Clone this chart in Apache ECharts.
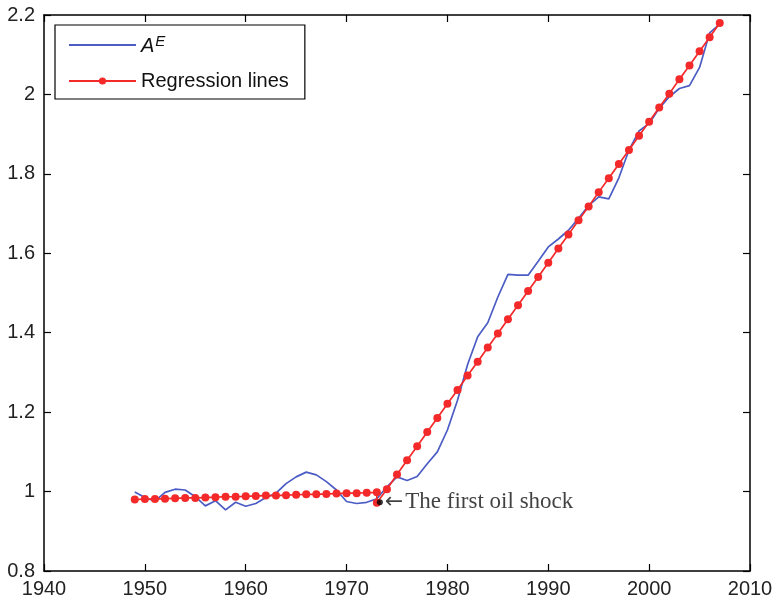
<!DOCTYPE html>
<html>
<head>
<meta charset="utf-8">
<script src="https://cdn.jsdelivr.net/npm/echarts@6/dist/echarts.min.js"></script>
<style>
html,body{margin:0;padding:0;background:#fff;}
#chart{width:776px;height:603px;}
</style>
</head>
<body>
<div id="chart"></div>
<script>
// ---- data ----
const years = [1949,1950,1951,1952,1953,1954,1955,1956,1957,1958,1959,1960,1961,1962,1963,1964,1965,1966,1967,1968,1969,1970,1971,1972,1973,1974,1975,1976,1977,1978,1979,1980,1981,1982,1983,1984,1985,1986,1987,1988,1989,1990,1991,1992,1993,1994,1995,1996,1997,1998,1999,2000,2001,2002,2003,2004,2005,2006,2007];
const aeValues = [0.999,0.985,0.976,0.998,1.006,1.004,0.987,0.964,0.977,0.954,0.973,0.963,0.970,0.985,0.996,1.020,1.037,1.049,1.042,1.025,1.004,0.975,0.970,0.973,0.982,1.012,1.037,1.028,1.038,1.070,1.100,1.155,1.230,1.320,1.390,1.425,1.490,1.547,1.545,1.545,1.580,1.616,1.636,1.658,1.688,1.720,1.742,1.737,1.790,1.860,1.908,1.927,1.965,1.994,2.015,2.022,2.068,2.155,2.177];

const regYears1 = [1949,1950,1951,1952,1953,1954,1955,1956,1957,1958,1959,1960,1961,1962,1963,1964,1965,1966,1967,1968,1969,1970,1971,1972,1973];
const regValues1 = [0.980,0.981,0.981,0.982,0.983,0.984,0.984,0.985,0.986,0.987,0.987,0.988,0.989,0.990,0.990,0.991,0.992,0.993,0.993,0.994,0.995,0.996,0.996,0.997,0.998];
const regYears2 = [1973,1974,1975,1976,1977,1978,1979,1980,1981,1982,1983,1984,1985,1986,1987,1988,1989,1990,1991,1992,1993,1994,1995,1996,1997,1998,1999,2000,2001,2002,2003,2004,2005,2006,2007];
const regValues2 = [0.972,1.006,1.043,1.079,1.114,1.150,1.185,1.221,1.256,1.292,1.327,1.363,1.398,1.434,1.469,1.505,1.540,1.576,1.612,1.647,1.683,1.718,1.754,1.789,1.825,1.860,1.896,1.931,1.967,2.002,2.038,2.073,2.109,2.144,2.180];

const shockYear = 1973.3;
const shockValue = 0.973;
const shockArrow = '\u2190';
const shockText = 'The first oil shock';

const seriesNames = ['AE', 'Regression lines'];

// ---- build ----
const aeData = years.map((y, i) => [y, aeValues[i]]);
const regData = regYears1.map((y, i) => [y, regValues1[i]])
  .concat(regYears2.map((y, i) => [y, regValues2[i]]));

const BLUE = '#4b5cc4';
const RED = '#f42a2a';
const FONT = 'Liberation Sans, Arial, sans-serif';
const SERIF = 'Liberation Serif, Times New Roman, serif';

function axisCommon(extra) {
  return Object.assign({
    type: 'value',
    axisLine: { show: true, lineStyle: { color: '#000', width: 1.5 } },
    axisTick: { show: true, inside: true, length: 7, lineStyle: { color: '#000', width: 1.2 } },
    splitLine: { show: false }
  }, extra);
}

const chart = echarts.init(document.getElementById('chart'), null, { renderer: 'canvas' });
chart.setOption({
  animation: false,
  backgroundColor: '#fff',
  grid: { left: 44, right: 26, top: 15, bottom: 32, containLabel: false },
  xAxis: [
    axisCommon({ position: 'bottom', min: 1940, max: 2010, interval: 10,
      axisLabel: { color: '#222', fontSize: 20, fontFamily: FONT, margin: 8,
        formatter: v => String(v) } }),
    axisCommon({ position: 'top', min: 1940, max: 2010, interval: 10,
      axisLabel: { show: false } })
  ],
  yAxis: [
    axisCommon({ position: 'left', min: 0.8, max: 2.2, interval: 0.2,
      axisLabel: { color: '#222', fontSize: 20, fontFamily: FONT, margin: 9,
        formatter: v => String(+v.toFixed(1)) } }),
    axisCommon({ position: 'right', min: 0.8, max: 2.2, interval: 0.2,
      axisLabel: { show: false } })
  ],
  legend: {
    data: [
      { name: seriesNames[0], itemStyle: { opacity: 0 } },
      { name: seriesNames[1] }
    ],
    orient: 'vertical',
    left: 55,
    top: 25,
    borderColor: '#000',
    borderWidth: 1.2,
    backgroundColor: '#fff',
    padding: [9, 16, 8, 13],
    itemWidth: 67,
    itemHeight: 9,
    itemGap: 14,
    formatter: name => name === 'AE' ? '{a|A}{e|E}' : name,
    textStyle: {
      fontSize: 20,
      color: '#111',
      fontFamily: FONT,
      rich: {
        a: { fontSize: 20, fontStyle: 'italic', fontFamily: FONT, color: '#111', verticalAlign: 'bottom', lineHeight: 22 },
        e: { fontSize: 15, fontStyle: 'italic', fontFamily: FONT, color: '#111', verticalAlign: 'top', lineHeight: 22, padding: [0, 0, 8, 1] }
      }
    }
  },
  series: [
    {
      name: 'AE',
      type: 'line',
      data: aeData,
      symbol: 'none',
      color: BLUE,
      lineStyle: { color: BLUE, width: 1.7 },
      z: 2
    },
    {
      name: 'Regression lines',
      type: 'line',
      data: regData,
      symbol: 'circle',
      symbolSize: 8,
      showAllSymbol: true,
      color: RED,
      itemStyle: { color: RED },
      lineStyle: { color: RED, width: 1.7 },
      z: 3
    },
    {
      name: 'shock',
      type: 'scatter',
      data: [[shockYear, shockValue]],
      symbol: 'circle',
      symbolSize: 6,
      itemStyle: { color: '#000' },
      z: 4,
      label: {
        show: true,
        position: 'right',
        distance: 2,
        formatter: '{r|' + shockArrow + '}{t|' + shockText + '}',
        rich: {
          r: { fontFamily: 'DejaVu Sans', fontSize: 22, color: '#111', padding: [0, 2, 0, 0] },
          t: { fontFamily: SERIF, fontSize: 23, color: '#111' }
        }
      }
    }
  ]
});
</script>
</body>
</html>
